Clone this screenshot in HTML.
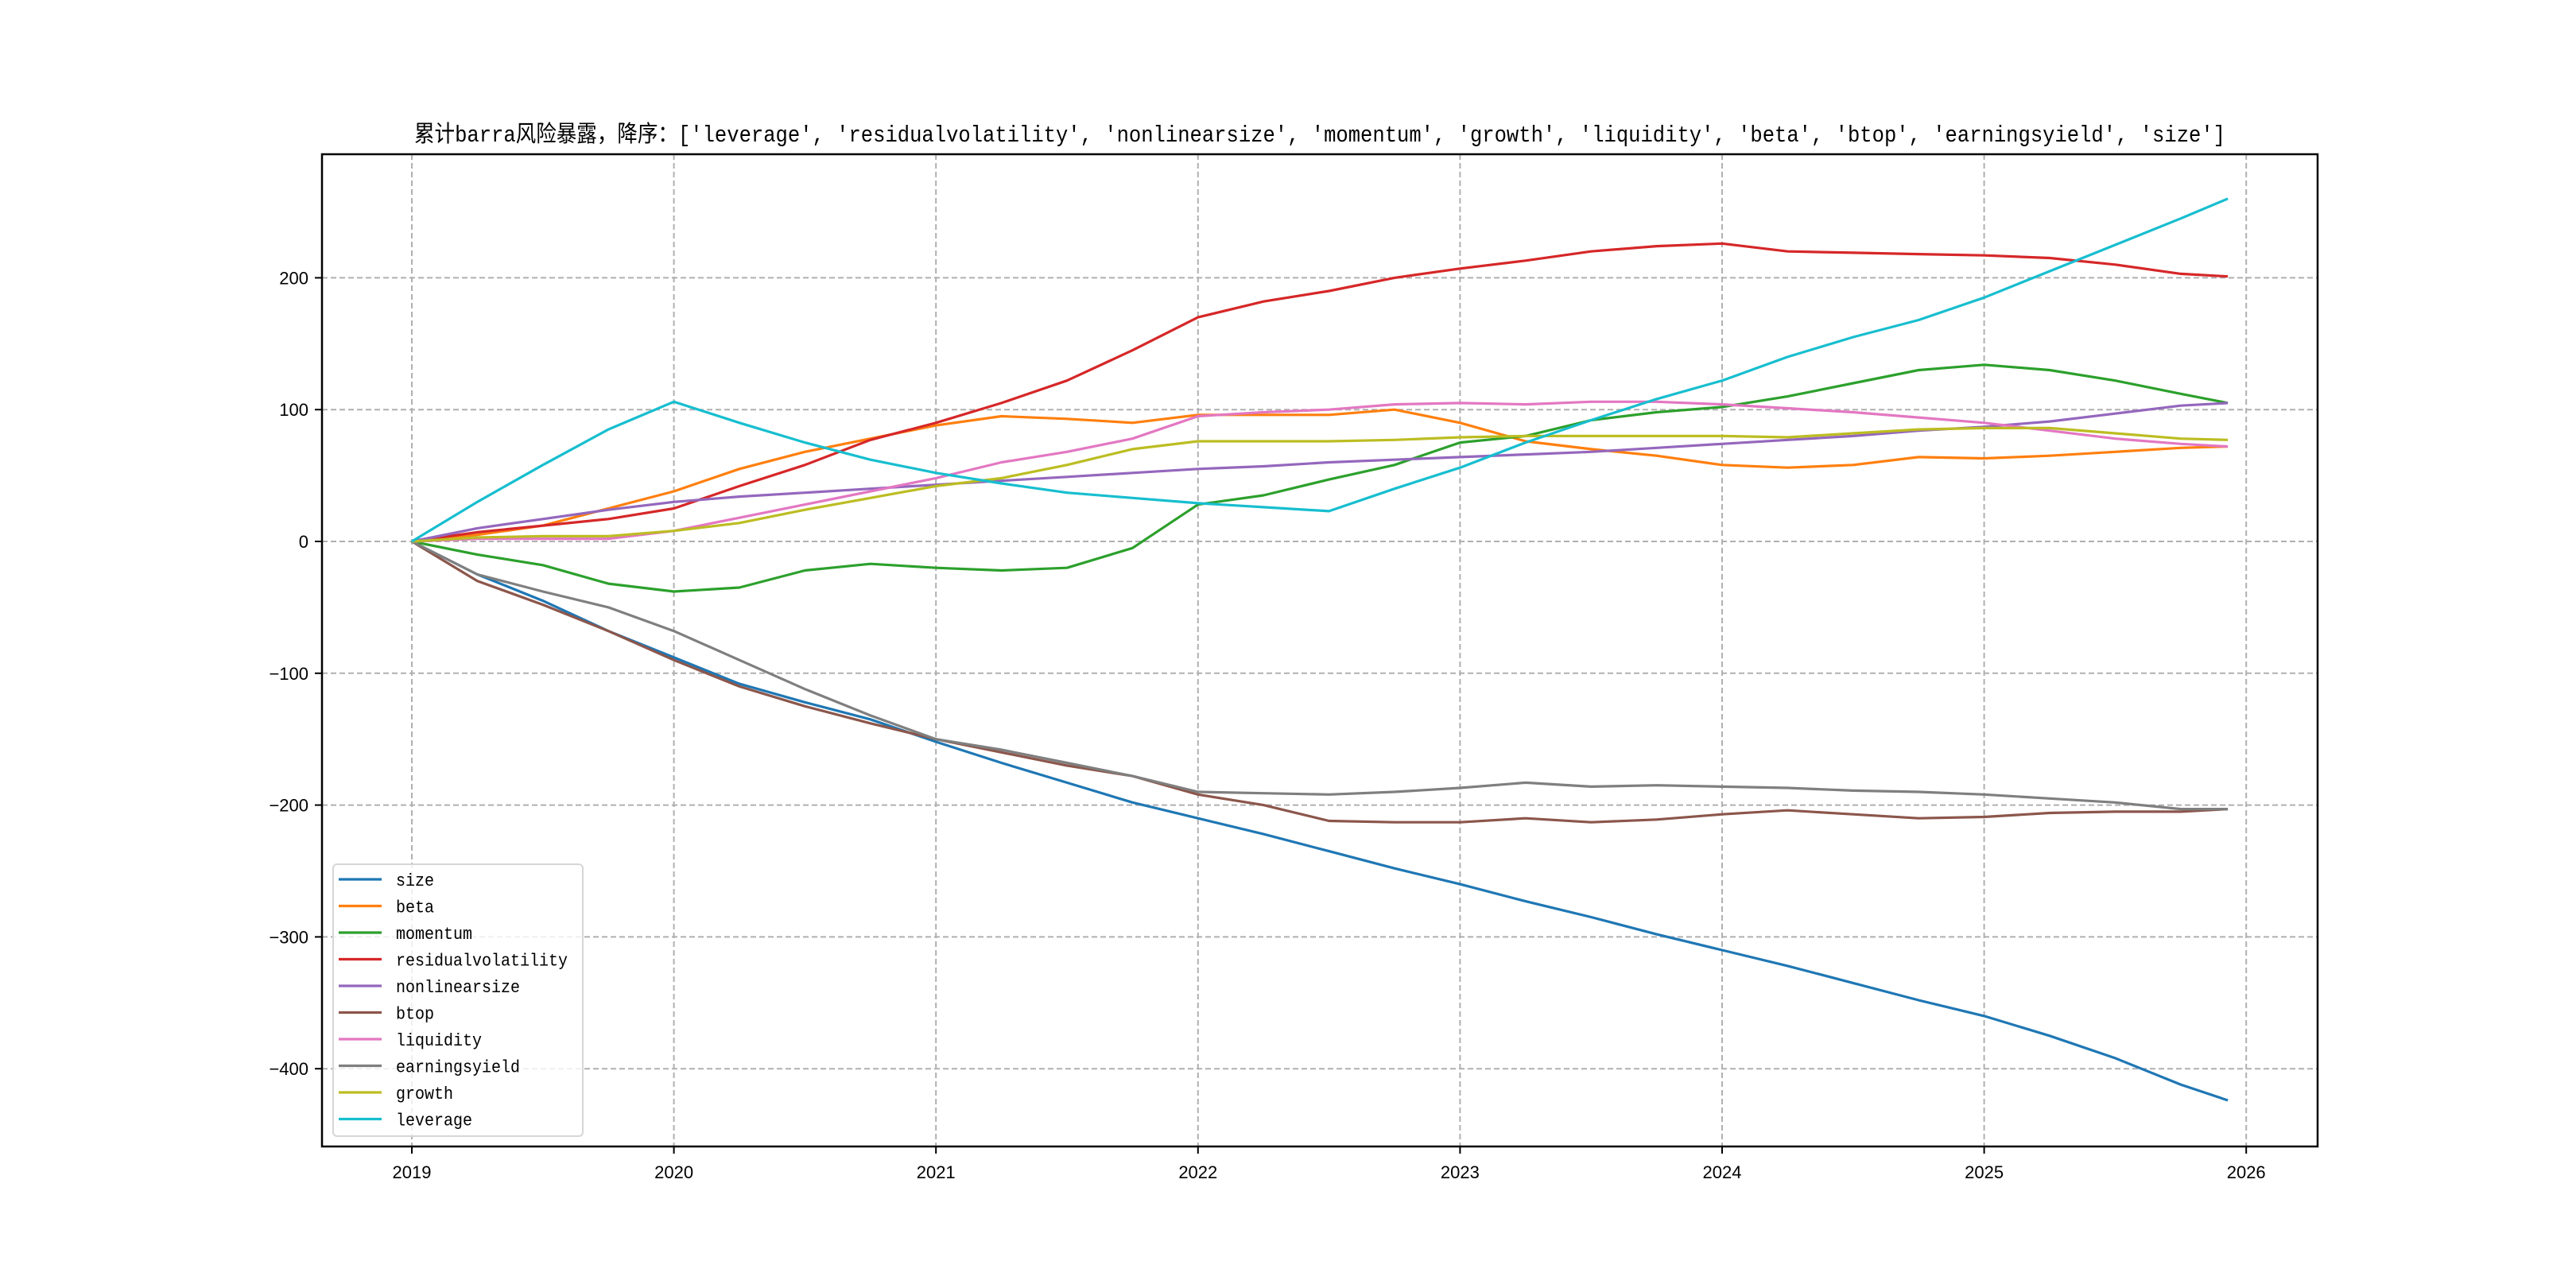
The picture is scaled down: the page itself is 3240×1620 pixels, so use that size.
<!DOCTYPE html>
<html><head><meta charset="utf-8">
<style>
html,body{margin:0;padding:0;background:#fff;}
svg{display:block;}
text{font-family:"Liberation Sans","WenQuanYi Zen Hei",sans-serif;fill:#000;}
</style></head>
<body>
<svg id="chart" width="3240" height="1620" viewBox="0 0 3240 1620" xmlns="http://www.w3.org/2000/svg">
<rect x="0" y="0" width="3240" height="1620" fill="#fff"/>
<text x="1660" y="178" text-anchor="middle" font-size="29" textLength="2278" lengthAdjust="spacingAndGlyphs" style="font-family:'Liberation Mono','WenQuanYi Zen Hei',monospace">累计barra风险暴露，降序：['leverage', 'residualvolatility', 'nonlinearsize', 'momentum', 'growth', 'liquidity', 'beta', 'btop', 'earningsyield', 'size']</text>
<g id="grid"></g>
<g id="series"></g>
<rect x="405" y="194" width="2510" height="1248" fill="none" stroke="#000" stroke-width="2.5"/>
<g id="ticks"></g>
<g id="legend"></g>
</svg>
<script>
const times = [2019,2019.25,2019.5,2019.75,2020,2020.25,2020.5,2020.75,2021,2021.25,2021.5,2021.75,2022,2022.25,2022.5,2022.75,2023,2023.25,2023.5,2023.75,2024,2024.25,2024.5,2024.75,2025,2025.25,2025.5,2025.75,2025.93];
const seriesNames = ["size","beta","momentum","residualvolatility","nonlinearsize","btop","liquidity","earningsyield","growth","leverage"];
const seriesColors = ["#1f77b4","#ff7f0e","#2ca02c","#d62728","#9467bd","#8c564b","#e377c2","#7f7f7f","#bcbd22","#17becf"];
const sizeVals = [0,-25,-45,-68,-88,-108,-122,-135,-152,-168,-183,-198,-210,-222,-235,-248,-260,-273,-285,-298,-310,-322,-335,-348,-360,-375,-392,-412,-424];
const betaVals = [0,5,12,25,38,55,68,78,88,95,93,90,96,96,96,100,90,76,70,65,58,56,58,64,63,65,68,71,72];
const momentumVals = [0,-10,-18,-32,-38,-35,-22,-17,-20,-22,-20,-5,28,35,47,58,75,80,92,98,102,110,120,130,134,130,122,112,105];
const residVals = [0,7,12,17,25,42,58,77,90,105,122,145,170,182,190,200,207,213,220,224,226,220,219,218,217,215,210,203,201];
const nonlinVals = [0,10,17,24,30,34,37,40,43,46,49,52,55,57,60,62,64,66,68,71,74,77,80,84,87,91,97,103,105];
const btopVals = [0,-30,-48,-68,-90,-110,-125,-138,-150,-160,-170,-178,-192,-200,-212,-213,-213,-210,-213,-211,-207,-204,-207,-210,-209,-206,-205,-205,-203];
const liquidityVals = [0,2,2,2,8,18,28,38,48,60,68,78,95,98,100,104,105,104,106,106,104,101,98,94,90,84,78,74,72];
const earningsVals = [0,-25,-38,-50,-68,-90,-112,-132,-150,-158,-168,-178,-190,-191,-192,-190,-187,-183,-186,-185,-186,-187,-189,-190,-192,-195,-198,-203,-203];
const growthVals = [0,3,4,4,8,14,24,33,42,48,58,70,76,76,76,77,79,80,80,80,80,79,82,85,86,86,82,78,77];
const leverageVals = [0,30,58,85,106,90,75,62,52,44,37,33,29,26,23,40,56,75,92,108,122,140,155,168,185,205,225,245,260];
const allVals = [sizeVals,betaVals,momentumVals,residVals,nonlinVals,btopVals,liquidityVals,earningsVals,growthVals,leverageVals];
const xTicks = [2019,2020,2021,2022,2023,2024,2025,2026];
const yTicks = [-400,-300,-200,-100,0,100,200];

const NS="http://www.w3.org/2000/svg";
function xs(t){return 518+(t-2019)*329.6;}
function ys(v){return 681-v*1.658;}
function mk(tag,attrs,parent){const e=document.createElementNS(NS,tag);for(const k in attrs)e.setAttribute(k,attrs[k]);parent.appendChild(e);return e;}
const grid=document.getElementById('grid'),ticks=document.getElementById('ticks'),ser=document.getElementById('series'),leg=document.getElementById('legend');
xTicks.forEach(t=>{
  const g=mk('line',{x1:xs(t),x2:xs(t),y1:194,y2:1442,stroke:'#b0b0b0','stroke-width':2,'stroke-dasharray':'7,4'},grid);
  
  
  const tk=mk('line',{x1:xs(t),x2:xs(t),y1:1442,y2:1451,stroke:'#000','stroke-width':2},ticks);
  
  
  const lb=mk('text',{x:xs(t),y:1482,'text-anchor':'middle','font-size':22},ticks);
  lb.textContent=t;
  
  
});
yTicks.forEach(v=>{
  const g=mk('line',{x1:405,x2:2915,y1:ys(v),y2:ys(v),stroke:'#b0b0b0','stroke-width':2,'stroke-dasharray':'7,4'},grid);
  
  
  const tk=mk('line',{x1:396,x2:405,y1:ys(v),y2:ys(v),stroke:'#000','stroke-width':2},ticks);
  
  
  const lb=mk('text',{x:388,y:ys(v)+8,'text-anchor':'end','font-size':22},ticks);
  lb.textContent=(v<0?'\u2212'+(-v):v);
  
  
});
allVals.forEach((vals,i)=>{
  const pts=vals.map((v,j)=>xs(times[j]).toFixed(1)+','+ys(v).toFixed(1)).join(' ');
  const p=mk('polyline',{points:pts,fill:'none',stroke:seriesColors[i],'stroke-width':3.2,'stroke-linejoin':'round'},ser);
  
  
});
const box=mk('rect',{x:419,y:1087,width:314,height:342,rx:5,fill:'#fff','fill-opacity':0.8,stroke:'#d6d6d6','stroke-width':2},leg);


seriesNames.forEach((n,i)=>{
  const y=1106+i*33.5;
  const l=mk('line',{x1:426,x2:480,y1:y,y2:y,stroke:seriesColors[i],'stroke-width':3.2},leg);
  
  
  const t=mk('text',{x:498,y:y+8,'font-size':22,textLength:(n.length*12).toString(),lengthAdjust:'spacingAndGlyphs',style:"font-family:'Liberation Mono','WenQuanYi Zen Hei',monospace"},leg);
  t.textContent=n;
  
  
});
</script>
</body></html>
